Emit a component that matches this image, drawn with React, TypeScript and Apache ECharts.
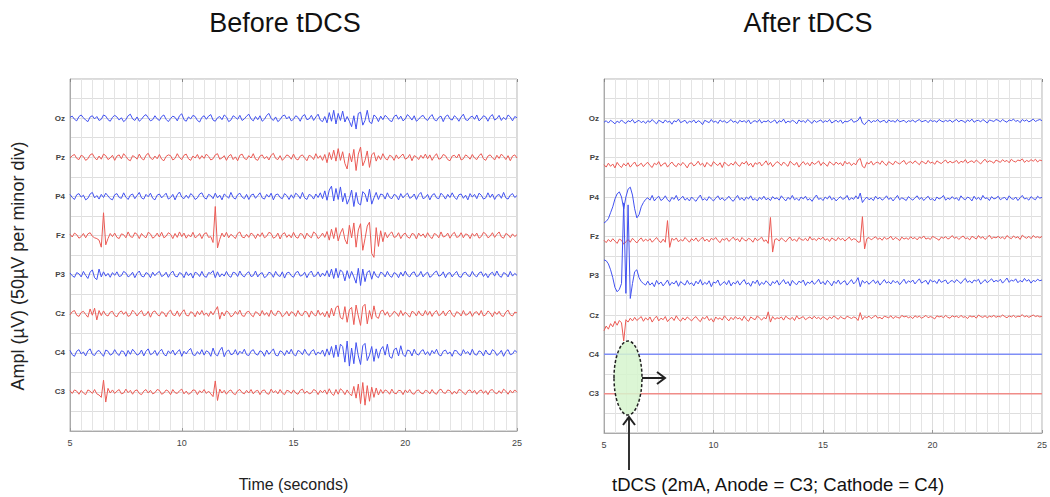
import React, { useEffect, useRef } from "react";
import * as echarts from "echarts";

// ---------- axes / layout data ----------
const CHANNELS = ["Oz", "Pz", "P4", "Fz", "P3", "Cz", "C4", "C3"];
const CH_OFFSET = [800, 700, 600, 500, 400, 300, 200, 100]; // µV baseline of each trace
const CH_IS_BLUE = [true, false, true, false, true, false, true, false];
const T_START = 5;
const T_STEP = 0.1;
const X_MIN = 5;
const X_MAX = 25;
const X_TICK = 5;
const TITLES = ["Before tDCS", "After tDCS"];
const Y_NAME = "Ampl (\u00b5V) (50\u00b5V per minor div)";
const X_NAME = "Time (seconds)";
const NOTE = "tDCS (2mA, Anode = C3; Cathode = C4)";

// ---------- traces, µV relative to baseline, one value per 0.1 s from 5 s ----------
const OZ_BEFORE = [
  2,5,-3,-7,4,8,1,-5,-9,3,6,-2,4,-6,-3,8,5,-4,-8,2,
  7,3,-5,1,-9,-4,6,10,-2,-6,3,-8,-3,5,9,1,-7,-4,6,-2,
  -6,4,8,-3,-9,-1,5,2,-7,6,11,-4,-8,3,-2,7,4,-6,-10,2,
  6,-3,5,9,-5,-8,1,4,-4,8,3,-9,-5,6,2,-3,7,-6,-2,5,
  10,-2,-7,4,-4,6,-8,-3,7,12,-1,-6,3,-9,-4,5,8,-2,4,-7,
  -3,6,2,-8,5,9,-4,-2,7,-6,3,10,-5,-9,4,-12,14,-8,20,-15,
  12,-6,18,-10,4,-8,-22,6,-28,12,15,-18,-6,20,-10,-14,8,3,-9,5,
  -4,7,2,-6,-9,4,8,-3,5,-7,-2,9,3,-5,6,-8,-3,4,7,-2,
  -6,3,9,-4,-7,2,5,-9,4,8,-2,-5,6,1,-8,3,10,-4,-6,2,
  5,-3,8,-7,-2,6,3,-8,4,9,-5,-1,7,-6,2,-4,8,3,-7,4,
  1,
];
const PZ_BEFORE = [
  -2,4,7,-3,-6,5,2,-8,-4,6,9,-1,-7,3,-5,8,4,-6,-2,5,
  -8,3,6,-4,9,2,-6,-9,4,1,-5,8,-3,-7,5,10,-2,-6,3,-4,
  7,-5,-9,2,6,4,-7,-3,9,-1,-6,5,8,-4,-8,3,-2,7,-5,4,
  -3,8,2,-7,-4,6,9,-5,-2,4,-8,3,7,-6,1,-9,5,8,-3,-6,
  4,-2,9,-5,-8,3,6,-4,2,-7,5,10,-3,-6,4,-8,-2,6,3,-5,
  8,-4,-7,3,6,-2,-9,5,2,-6,9,-3,4,-8,7,-14,12,-6,18,-10,
  22,-8,14,-16,-30,10,-12,20,-34,8,26,-22,-8,16,-26,6,12,-10,4,-6,
  9,-3,-7,5,2,-8,6,-4,3,8,-5,-2,7,-9,4,1,-6,5,-3,8,
  -4,6,-8,2,9,-5,-3,7,4,-6,-9,3,5,-2,8,-7,-4,6,2,-5,
  7,-2,-6,4,9,-4,-8,3,6,-1,-7,5,-3,8,2,-6,4,-9,3,6,
  -2,
];
const P4_BEFORE = [
  5,-3,-8,4,7,-2,3,-9,-5,6,10,-4,2,-7,5,-3,8,1,-6,-9,
  4,7,-3,-5,9,-2,-8,3,6,-6,2,10,-4,-7,5,-1,8,-5,-9,3,
  6,-4,2,8,-7,-3,5,-9,4,11,-2,-6,3,-5,7,2,-8,-4,6,9,
  -3,-7,5,2,-6,8,-4,3,-9,6,1,-5,10,-3,-7,4,8,-2,-6,5,
  -8,3,6,-5,2,9,-4,-7,5,-2,8,-9,4,6,-3,-6,7,2,-8,4,
  -5,8,3,-6,10,-4,-8,5,2,-7,6,-3,9,-6,14,-10,16,26,-12,20,
  -8,24,-14,8,-20,-6,16,-26,10,-18,-22,12,6,-14,18,-20,-4,10,-8,6,
  4,-7,9,-3,-6,5,2,-9,7,-4,3,8,-5,-2,6,-8,4,10,-6,-3,
  5,-9,3,7,-4,-6,8,2,-7,5,-3,9,-2,-8,4,6,-5,3,-9,7,
  -2,5,-6,8,3,-7,-4,9,-3,6,-8,2,5,-5,10,-4,-7,3,7,-3,
  2,
];
const FZ_BEFORE = [
  3,-4,6,2,-7,-3,5,-6,4,7,-2,-6,-8,-12,-30,58,-24,-8,5,-3,
  6,-5,-8,4,2,-6,9,-3,-5,7,3,-8,5,-2,-6,8,4,-7,-3,6,
  -4,8,-6,-2,7,3,-8,5,-5,9,-3,6,-7,2,-4,8,-6,-2,5,-8,
  4,7,-5,-3,-18,74,-32,-10,6,-4,8,-6,3,-2,-8,5,9,-4,-6,3,
  -5,6,2,-8,4,-3,7,-6,-2,8,5,-7,-4,6,-9,3,7,-5,2,-6,
  8,-4,-7,5,3,-9,6,-2,-6,9,4,-8,-3,6,-5,10,-12,16,-8,20,
  -14,6,18,-10,-22,26,-6,32,-30,14,30,-38,-8,24,34,-46,-56,20,-28,12,
  -16,8,-6,4,9,-5,-3,7,-8,2,6,-4,-7,5,3,-9,6,-2,4,-6,
  7,-3,-8,5,2,-6,9,-4,-2,6,-7,3,8,-5,-3,7,-6,4,2,-8,
  5,-2,6,-7,-3,8,4,-6,-2,7,-5,3,9,-4,-7,5,2,-6,4,-3,
  2,
];
const P3_BEFORE = [
  4,-3,-7,5,2,-6,8,-2,-10,6,12,-8,-13,14,-6,7,-4,3,-7,5,
  -2,7,-5,-3,8,4,-6,-2,6,-8,3,9,-4,-6,5,2,-8,6,-3,4,
  8,-5,-2,6,-7,3,9,-4,-6,5,2,-8,7,-3,4,-9,6,3,-5,8,
  -4,-7,5,3,10,-8,7,-6,2,-4,8,-3,-7,6,4,-5,9,-2,-6,3,
  7,-5,-3,9,-6,2,5,-8,-4,6,3,-7,8,-2,-5,7,-9,4,6,-3,
  -7,5,8,-4,-2,6,-8,3,9,-5,-3,7,-6,4,-4,10,-6,14,-10,16,
  -8,12,6,-16,10,-10,8,-6,-22,16,-28,14,-18,6,10,-12,8,-4,-8,6,
  3,-6,8,-3,-7,5,2,-8,6,-4,9,-2,-6,4,7,-5,-3,8,-6,2,
  6,-7,-3,5,9,-4,-2,7,-8,3,5,-6,2,8,-5,-7,4,6,-3,-5,
  8,-2,-6,4,7,-5,3,-8,2,6,-4,9,-3,-7,5,2,-6,8,-4,3,
  -2,
];
const CZ_BEFORE = [
  -3,5,8,-4,-7,3,6,-2,-9,12,-4,14,-16,8,-5,7,-3,-6,4,6,
  -5,-8,3,7,-2,5,-7,-4,9,3,-6,2,8,-5,-3,6,-9,4,7,-2,
  -6,5,2,-8,4,9,-3,-5,7,-7,3,10,-4,-6,5,2,-8,6,-3,8,
  -4,2,-7,6,-3,8,18,-14,4,-6,7,3,-8,-4,6,-2,9,-5,-7,4,
  6,-3,-8,5,2,-6,8,-4,3,-7,9,-2,-5,7,4,-8,-3,6,-6,5,
  2,-7,8,-3,-5,6,4,-9,7,-2,-6,9,-4,3,-8,6,-10,14,-6,16,
  20,-10,-14,18,-22,10,16,-28,22,-6,-30,18,24,-26,8,-14,20,-8,-12,6,
  9,-4,5,-8,-3,6,2,-7,8,-5,4,-2,-9,6,3,-6,7,-3,-5,8,
  -4,6,-7,3,8,-5,-2,7,-6,4,9,-3,-8,5,2,-6,8,-4,-2,6,
  -7,3,5,-4,8,-6,-3,7,2,-8,5,-2,6,-5,-7,4,9,-3,-6,4,
  2,
];
const C4_BEFORE = [
  6,-5,-9,4,8,-3,2,-8,5,10,-4,-7,3,6,-2,-9,7,4,-6,-3,
  8,-2,-7,5,3,-9,6,-4,9,2,-6,-3,7,-8,4,10,-5,-2,6,-7,
  3,9,-4,-8,5,-2,7,-6,2,8,-9,4,-3,6,11,-5,-7,3,-4,8,
  -6,5,2,-9,12,-4,-8,6,14,-10,3,7,-5,-3,8,-6,4,-2,9,-5,
  -7,4,8,-3,-6,5,2,-9,7,-4,3,10,-6,-8,5,2,-7,6,-3,9,
  -4,-8,6,3,-5,9,-2,-7,4,8,-6,2,-3,7,-9,10,-6,16,-12,20,
  -10,22,16,-24,30,-34,12,-28,26,-8,-30,18,24,-20,-6,16,-22,10,-14,8,
  16,-6,22,-10,-14,8,12,-8,18,-4,-10,7,5,-8,9,-3,-6,4,8,-5,
  3,-7,6,-2,9,-5,-8,4,7,-3,2,-9,6,5,-4,-7,8,-2,3,-6,
  9,-4,-6,5,2,-8,7,-3,-5,8,4,-7,-2,6,-9,3,8,-5,-3,6,
  1,
];
const C3_BEFORE = [
  3,-4,5,2,-6,4,-3,-7,5,2,-4,6,-5,-8,-14,30,-26,9,-3,5,
  -4,2,6,-5,-3,7,-2,4,-6,3,5,-4,-7,2,6,-3,4,-5,-2,6,
  4,-6,-3,5,2,-7,6,-2,-4,3,7,-5,2,-6,-3,5,4,-7,3,-2,
  6,-4,2,-5,-12,28,-22,7,-3,4,-6,2,5,-4,-7,3,6,-2,-5,4,
  -3,6,-5,2,4,-7,3,5,-4,-6,7,-2,3,-5,6,-3,-7,4,2,-4,
  5,-3,-6,4,7,-4,2,-5,-3,6,3,-7,4,-2,5,-6,8,-4,-9,6,
  -6,8,3,-7,5,-4,-10,14,-16,20,-30,24,-34,16,-24,12,-14,10,-8,6,
  -4,5,2,-6,7,-3,-5,4,3,-7,5,-2,6,-4,-6,3,5,-3,-5,4,
  2,-5,6,-3,-6,4,7,-2,-4,5,3,-6,2,-5,6,4,-3,-7,3,5,
  -3,4,-6,2,5,-4,3,-7,4,6,-2,-5,3,-4,7,2,-6,4,-3,5,
  -1,
];

const OZ_AFTER = [
  -10,-6,-12,-5,-9,-14,-7,-11,-4,-10,-13,-6,-9,-3,-12,-8,-5,-11,-7,-13,
  -6,-10,-3,-9,-14,-5,-8,-12,-4,-10,-7,-15,-6,-9,-2,-11,-8,-5,-13,-7,
  -10,-4,-12,-6,-9,-16,-5,-8,-11,-3,-10,-7,-13,-4,-9,-6,-12,-8,-3,-10,
  -7,-13,-5,-9,-6,-11,-4,-14,-8,-6,-10,-3,-12,-7,-9,-5,-11,-8,-4,-13,
  -6,-9,-2,-12,-7,-10,-5,-8,-14,-4,-9,-6,-11,-3,-8,-13,-5,-10,-7,-4,
  -11,-6,-9,-3,-12,-8,-5,-10,-4,-13,-7,-9,-6,-2,-10,-8,-5,4,-12,-16,
  -9,-4,-11,-6,-8,-3,-10,-7,-5,-12,-4,-8,-6,-10,-3,-9,-7,-5,-11,-6,
  -8,-4,-10,-6,-3,-9,-7,-5,-11,-4,-8,-6,-10,-3,-7,-9,-5,-8,-4,-10,
  -6,-3,-9,-5,-7,-11,-4,-8,-2,-10,-6,-5,-9,-3,-7,-12,-4,-6,-8,-3,
  -5,-9,-3,-7,-10,-4,-6,-2,-8,-5,-11,-3,-7,-4,-9,-6,-2,-8,-5,-3,
  -6,
];
const PZ_AFTER = [
  -18,-24,-14,-22,-16,-26,-12,-20,-25,-15,-21,-13,-24,-17,-11,-22,-19,-14,-23,-16,
  -12,-20,-25,-14,-18,-10,-22,-16,-13,-24,-17,-11,-19,-23,-14,-20,-12,-18,-26,-15,
  -13,-21,-17,-9,-19,-14,-24,-12,-18,-22,-10,-16,-20,-13,-25,-11,-17,-21,-14,-19,
  -10,-18,-22,-12,-16,-9,-20,-14,-24,-13,-17,-11,-21,-15,-8,-19,-12,-23,-16,-10,
  -14,-20,-11,-17,-22,-9,-15,-19,-12,-24,-16,-10,-18,-13,-21,-11,-17,-14,-8,-20,
  -12,-16,-22,-10,-15,-19,-11,-17,-13,-21,-9,-16,-12,-20,-14,-18,-6,-2,-22,-26,
  -12,-16,-9,-19,-13,-11,-17,-8,-15,-20,-10,-14,-18,-9,-13,-16,-11,-7,-17,-12,
  -10,-15,-8,-13,-18,-9,-12,-16,-7,-14,-11,-17,-8,-12,-15,-10,-6,-14,-9,-13,
  -11,-7,-15,-9,-12,-5,-14,-10,-8,-13,-6,-11,-16,-9,-4,-12,-8,-10,-14,-6,
  -9,-12,-5,-10,-7,-13,-4,-9,-11,-6,-8,-3,-12,-7,-10,-5,-9,-4,-11,-6,
  -8,
];
const P4_AFTER = [
  -66,-62,-55,-40,-25,-5,8,13,0,-30,0,20,25,5,-30,-53,-45,-25,-14,-6,
  -2,-8,4,-10,-3,2,-9,-5,3,-7,-12,-1,-6,4,-9,-4,2,-8,-3,-10,
  0,-6,-11,-2,5,-8,-4,-9,1,-5,-10,-3,3,-7,-2,-9,-5,2,-6,-11,
  -3,4,-7,-2,-9,0,-5,3,-8,-4,-10,-1,-6,2,-7,-3,-9,1,-5,-2,
  -8,3,-4,-10,-1,-6,4,-7,-3,-9,0,-5,2,-8,-4,-11,-2,5,-6,-3,
  -9,0,-5,3,-7,-2,-10,-4,1,-6,-3,4,-8,-2,-6,3,-5,10,-14,-6,
  0,-7,-3,-9,2,-5,-1,-8,-4,3,-6,-2,-10,-3,4,-7,-2,-5,-9,1,
  -4,-8,-2,3,-6,-1,-9,-3,2,-7,-4,-10,0,-5,-2,4,-8,-3,-6,1,
  -5,-2,-9,3,-4,-7,0,-3,-10,2,-6,-1,-8,4,-4,-2,-9,1,-5,-3,
  2,-7,-3,-1,-8,3,-4,-6,0,-9,-2,4,-5,-3,-8,1,-4,-7,2,-3,
  -1,
];
const FZ_AFTER = [
  -10,-16,-8,-14,-6,-12,-18,-7,-10,-20,-14,-8,-15,-5,-11,-17,-9,-4,-13,-7,
  -12,-6,-15,-9,-3,-11,-16,-7,-15,40,-28,-5,-10,-4,-14,-8,-12,-3,-9,-15,
  -6,-11,-4,-13,-8,-2,-12,-7,-14,-5,-9,-3,-11,-16,-6,-10,-4,-13,-8,-2,
  -10,-6,-14,-3,-9,-12,-5,-8,-15,-4,-11,-7,-2,-13,-9,-18,48,-40,-8,-6,
  -12,-4,-9,-14,-6,-2,-11,-7,-13,-3,-8,-10,-5,-12,-1,-9,-6,-11,-4,-8,
  -2,-10,-6,-13,-4,-8,-11,-3,-9,-5,-12,-7,-2,-10,-6,-8,-15,-14,50,-32,
  -6,-3,-9,-5,-1,-8,-4,-10,-2,-7,-5,0,-9,-3,-6,-11,-2,-7,-4,-8,
  -1,-6,-3,-9,-2,-5,1,-7,-4,-8,0,-3,-6,-10,-2,-5,-1,-7,-4,2,
  -5,-2,-8,-3,1,-6,-4,-9,0,-3,-7,2,-5,-1,-8,-3,3,-6,-2,-4,
  0,-5,-2,-7,2,-3,-6,1,-4,-1,-8,3,-2,-5,0,-6,2,-3,-1,-4,
  0,
];
const P3_AFTER = [
  40,38,30,15,-5,-30,-41,-35,-20,185,-45,180,-58,-20,10,15,-5,-15,-20,-24,
  -14,-24,-18,-28,-12,-22,-16,-26,-19,-11,-25,-17,-21,-13,-27,-15,-20,-24,-12,-22,
  -18,-26,-14,-21,-10,-24,-17,-22,-13,-28,-16,-19,-11,-25,-20,-15,-23,-12,-26,-17,
  -21,-13,-24,-16,-10,-22,-18,-27,-14,-20,-11,-25,-17,-22,-13,-19,-26,-15,-20,-12,
  -24,-17,-10,-21,-15,-26,-12,-19,-23,-14,-18,-11,-25,-16,-20,-13,-22,-17,-9,-21,
  -15,-23,-12,-18,-26,-14,-20,-11,-22,-16,-13,-24,-17,-10,-21,-15,-5,-28,-12,-19,
  -14,-22,-16,-11,-20,-13,-24,-17,-10,-19,-15,-21,-12,-18,-14,-23,-16,-9,-20,-13,
  -17,-11,-21,-14,-8,-19,-15,-12,-22,-10,-16,-13,-20,-9,-17,-14,-11,-21,-15,-12,
  -18,-10,-15,-20,-12,-7,-17,-13,-19,-11,-14,-9,-21,-16,-10,-18,-13,-8,-16,-12,
  -15,-9,-19,-13,-6,-17,-11,-14,-8,-18,-12,-16,-7,-14,-10,-19,-12,-15,-9,-13,
  -11,
];
const CZ_AFTER = [
  -40,-28,-36,-22,-30,-16,-26,-14,-20,-66,-12,-18,-8,-15,-6,-14,-9,-4,-16,-7,
  -13,-5,-18,-9,-3,-15,-8,-12,-4,-17,-10,-6,-14,-2,-11,-16,-7,-13,-5,-10,
  -15,-8,-4,-12,-17,-6,-10,-3,-14,-9,-18,-5,-11,-7,-13,-2,-9,-15,-6,-12,
  -4,-10,-7,-14,-3,-11,-16,-5,-9,-12,-2,-8,-13,-6,-10,8,-18,-4,-11,-7,
  -9,-5,-13,-3,-8,-11,-6,-14,-2,-10,-7,-4,-12,-8,-5,-10,-3,-9,-6,-11,
  -4,-8,-12,-5,-9,-2,-7,-11,-4,-8,-10,-3,-6,-9,-5,-7,-14,6,-12,-4,
  -7,-3,-9,-5,-1,-8,-6,-10,-3,-5,-7,-2,-9,-4,-6,-8,-1,-5,-3,-7,
  -4,-9,-2,-6,-3,-8,-5,-1,-7,-4,-6,-10,-2,-5,-3,-7,-1,-6,-8,-2,
  -5,-3,-7,-1,-6,-4,-9,-2,-5,-3,-8,0,-4,-6,-2,-7,-3,-5,-1,-6,
  -3,-5,0,-4,-7,-2,-5,-1,-6,-3,-4,1,-5,-2,-6,-3,0,-4,-2,-5,
  -3,
];
// after tDCS, C4 and C3 are flat: values at the two end times
const FLAT_T = [5, 25];
const C4_AFTER = [0, 0];
const C3_AFTER = [0, 0];

const BEFORE = [OZ_BEFORE, PZ_BEFORE, P4_BEFORE, FZ_BEFORE, P3_BEFORE, CZ_BEFORE, C4_BEFORE, C3_BEFORE];
const AFTER = [OZ_AFTER, PZ_AFTER, P4_AFTER, FZ_AFTER, P3_AFTER, CZ_AFTER, C4_AFTER, C3_AFTER];

const BLUE = "#4252f0";
const RED = "#eb5a54";
const BLUE_FLAT = "#7f8ef6";
const RED_FLAT = "#f08c88";
const FONT = "'Liberation Sans', Arial, Helvetica, sans-serif";

function traceData(vals: number[], offset: number): number[][] {
  if (vals.length === FLAT_T.length) {
    return vals.map((v, i) => [FLAT_T[i], offset + v]);
  }
  return vals.map((v, i) => [+(T_START + i * T_STEP).toFixed(2), offset + v]);
}

function buildOption(): any {
  const grids = [
    { left: 70, top: 79, width: 447, height: 354 },
    { left: 604, top: 79, width: 445, height: 354 },
  ].map((g) => ({ ...g, show: true, borderColor: "#b5b5b5", borderWidth: 1, backgroundColor: "#fff" }));

  const xAxes: any[] = [];
  const yAxes: any[] = [];
  [0, 1].forEach((gi) => {
    xAxes.push({
      type: "value",
      gridIndex: gi,
      min: X_MIN,
      max: X_MAX,
      interval: X_TICK,
      name: gi === 0 ? X_NAME : "",
      nameLocation: "middle",
      nameGap: 45,
      nameTextStyle: { fontSize: 16, color: "#222", fontFamily: FONT },
      axisLine: { show: true, lineStyle: { color: "#aaa" } },
      axisTick: { show: true, inside: true, length: 3, lineStyle: { color: "#999" } },
      axisLabel: { fontSize: 9, color: "#444", margin: 7, fontFamily: FONT },
      splitLine: { show: true, lineStyle: { color: "#dcdcdc", width: 1 } },
      minorTick: { show: false, splitNumber: 10 },
      minorSplitLine: { show: true, lineStyle: { color: "#e4e4e4", width: 1 } },
    });
    xAxes.push({
      type: "value",
      gridIndex: gi,
      position: "top",
      min: X_MIN,
      max: X_MAX,
      interval: X_TICK,
      axisLine: { show: false },
      axisTick: { show: true, inside: true, length: 3, lineStyle: { color: "#888" } },
      axisLabel: { show: false },
      splitLine: { show: false },
    });
    yAxes.push({
      type: "value",
      gridIndex: gi,
      min: 0,
      max: 900,
      interval: 50,
      axisLine: { show: true, lineStyle: { color: "#aaa" } },
      axisTick: { show: false },
      axisLabel: {
        fontSize: 8,
        fontWeight: "bold",
        color: "#444",
        margin: 5,
        fontFamily: FONT,
        formatter: (v: number) => {
          const k = CH_OFFSET.indexOf(v);
          return k >= 0 ? CHANNELS[k] : "";
        },
      },
      splitLine: { show: true, lineStyle: { color: "#dedede", width: 1 } },
    });
  });

  const series: any[] = [];
  [BEFORE, AFTER].forEach((panel, gi) => {
    panel.forEach((vals, k) => {
      const flat = vals.length === FLAT_T.length;
      const color = CH_IS_BLUE[k] ? (flat ? BLUE_FLAT : BLUE) : flat ? RED_FLAT : RED;
      series.push({
        type: "line",
        name: `${TITLES[gi]} ${CHANNELS[k]}`,
        xAxisIndex: gi * 2,
        yAxisIndex: gi,
        data: traceData(vals, CH_OFFSET[k]),
        showSymbol: false,
        symbol: "none",
        smooth: false,
        lineStyle: { color, width: flat ? 1.5 : 1 },
        z: 3,
      });
    });
  });

  const graphic: any[] = [
    {
      type: "text",
      x: 285,
      y: 23,
      style: { text: TITLES[0], font: `27px ${FONT}`, fill: "#111", textAlign: "center", textVerticalAlign: "middle" },
    },
    {
      type: "text",
      x: 808,
      y: 23,
      style: { text: TITLES[1], font: `27px ${FONT}`, fill: "#111", textAlign: "center", textVerticalAlign: "middle" },
    },
    {
      type: "text",
      x: 18,
      y: 266,
      rotation: Math.PI / 2,
      style: { text: Y_NAME, font: `18px ${FONT}`, fill: "#222", textAlign: "center", textVerticalAlign: "middle" },
    },
    {
      type: "ellipse",
      shape: { cx: 628, cy: 378, rx: 14, ry: 37 },
      style: { fill: "rgba(214,244,206,0.85)", stroke: "#222", lineWidth: 1.5, lineDash: [3, 2] },
      z: 50,
    },
    {
      type: "line",
      shape: { x1: 642, y1: 378, x2: 664, y2: 378 },
      style: { stroke: "#222", lineWidth: 2 },
      z: 50,
    },
    {
      type: "polyline",
      shape: { points: [[657, 372], [665, 378], [657, 384]] },
      style: { stroke: "#222", lineWidth: 2, fill: "none" },
      z: 50,
    },
    {
      type: "line",
      shape: { x1: 629, y1: 470, x2: 629, y2: 418 },
      style: { stroke: "#333", lineWidth: 2 },
      z: 50,
    },
    {
      type: "polyline",
      shape: { points: [[623, 425], [629, 417], [635, 425]] },
      style: { stroke: "#222", lineWidth: 2, fill: "none" },
      z: 50,
    },
    {
      type: "text",
      x: 612,
      y: 484,
      style: { text: NOTE, font: `18.5px ${FONT}`, fill: "#111", textAlign: "left", textVerticalAlign: "middle" },
      z: 50,
    },
  ];

  return {
    animation: false,
    backgroundColor: "#fff",
    textStyle: { fontFamily: FONT },
    grid: grids,
    xAxis: xAxes,
    yAxis: yAxes,
    series,
    graphic,
  };
}

export default function App() {
  const ref = useRef<HTMLDivElement>(null);
  useEffect(() => {
    if (!ref.current) return;
    const chart = echarts.init(ref.current, undefined, { renderer: "svg" });
    chart.setOption(buildOption());
    return () => chart.dispose();
  }, []);
  return (
    <div
      ref={ref}
      style={{ position: "absolute", left: 0, top: 0, width: 1050, height: 497, background: "#fff" }}
    />
  );
}
